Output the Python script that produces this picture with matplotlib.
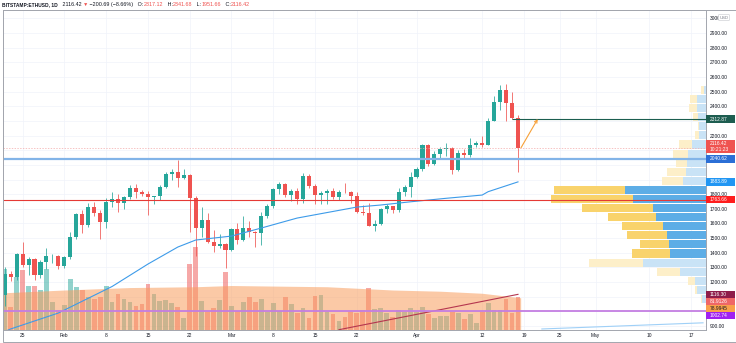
import matplotlib
matplotlib.use("Agg")
import matplotlib.pyplot as plt
import matplotlib.dates as mdates
import matplotlib.transforms as mtransforms
from matplotlib.patches import Rectangle
from matplotlib.text import Annotation
import pandas as pd

# ==========================================================
# CONFIG
# ==========================================================

plt.rcParams["font.family"] = ["Liberation Sans", "DejaVu Sans"]

W, H = 736, 343
FS = 3.5

DARK = "#131722"
UP = "#26a69a"
DOWN = "#ef5350"
GRID = "#f0f3fa"
FRAME = "#a3a6ae"

# ==========================================================
# DATA  (BITSTAMP:ETHUSD, 1D)
# ==========================================================

dates = pd.date_range("2021-01-22", "2021-04-18", freq="D")

opens = [
    1115, 1255, 1232, 1391, 1320, 1357, 1245, 1335, 1375, 1378,
    1312, 1368, 1510, 1662, 1592, 1712, 1672, 1612, 1748, 1768,
    1740, 1782, 1842, 1812, 1800, 1778, 1785, 1848, 1936, 1950,
    1912, 1932, 1775, 1572, 1626, 1475, 1445, 1460,
    1420, 1565, 1487, 1572, 1540, 1532, 1652, 1722, 1833, 1868,
    1795, 1825, 1768, 1922, 1855, 1793, 1806, 1822, 1780, 1815,
    1812, 1785, 1680, 1670, 1585, 1595, 1702, 1716, 1690, 1817, 1846,
    1918, 1971, 2135, 2008, 2075, 2107, 2112, 1964, 2080, 2068,
    2133, 2150, 2139, 2300, 2432, 2514, 2423, 2317.12,
]
highs = [
    1300, 1275, 1400, 1475, 1370, 1365, 1350, 1430, 1390, 1385,
    1380, 1540, 1670, 1695, 1740, 1745, 1695, 1775, 1815, 1800,
    1790, 1865, 1872, 1830, 1820, 1790, 1860, 1950, 1970, 2035,
    1970, 1940, 1785, 1710, 1670, 1555, 1525, 1465,
    1570, 1600, 1650, 1620, 1548, 1680, 1735, 1840, 1880, 1875,
    1835, 1840, 1945, 1935, 1870, 1820, 1835, 1840, 1830, 1875,
    1820, 1815, 1725, 1740, 1625, 1705, 1735, 1720, 1845, 1860, 1950,
    1985, 2145, 2145, 2095, 2125, 2150, 2120, 2100, 2105, 2180,
    2160, 2195, 2320, 2470, 2545, 2550, 2495, 2341.68,
]
lows = [
    1035, 1205, 1215, 1300, 1250, 1215, 1225, 1290, 1330, 1290,
    1295, 1355, 1495, 1535, 1575, 1650, 1495, 1570, 1710, 1680,
    1700, 1765, 1775, 1785, 1655, 1735, 1760, 1840, 1895, 1850,
    1905, 1540, 1380, 1510, 1465, 1405, 1430, 1295,
    1410, 1460, 1480, 1510, 1440, 1455, 1640, 1705, 1800, 1780,
    1755, 1735, 1740, 1840, 1730, 1730, 1730, 1770, 1760, 1805,
    1740, 1670, 1655, 1580, 1550, 1590, 1670, 1670, 1680, 1790, 1780,
    1910, 1960, 1995, 2000, 2050, 2060, 1935, 1955, 2050, 2055,
    2120, 2125, 2135, 2300, 2375, 2300, 2310, 1951.66,
]
closes = [
    1255, 1232, 1391, 1320, 1357, 1245, 1335, 1375, 1378, 1312,
    1368, 1510, 1662, 1592, 1712, 1672, 1612, 1748, 1768, 1740,
    1782, 1842, 1812, 1800, 1778, 1785, 1848, 1936, 1950, 1912,
    1932, 1775, 1572, 1626, 1475, 1445, 1460, 1420,
    1565, 1487, 1572, 1540, 1532, 1652, 1722, 1833, 1868, 1795,
    1825, 1768, 1922, 1855, 1793, 1806, 1822, 1780, 1815, 1812,
    1785, 1680, 1670, 1585, 1595, 1702, 1716, 1690, 1817, 1846, 1918,
    1971, 2135, 2008, 2075, 2107, 2112, 1964, 2080, 2068, 2133,
    2150, 2139, 2300, 2432, 2514, 2423, 2317.12, 2116.42,
]
# daily volume, thousand ETH
volumes = [
    150, 56, 130, 147, 108, 108, 98, 150, 69, 49,
    61, 125, 105, 98, 81, 76, 81, 108, 69, 88,
    76, 69, 59, 64, 113, 88, 71, 74, 66, 56,
    29, 162, 203, 71, 44, 54, 74, 142,
    59, 47, 69, 81, 69, 76, 44, 66, 47, 81,
    64, 42, 54, 29, 83, 86, 44, 39, 22, 32,
    44, 42, 49, 103, 52, 54, 42, 32, 49, 44, 54,
    44, 56, 39, 29, 34, 34, 44, 42, 27, 39,
    17, 44, 66, 49, 49, 76, 42, 81.9126,
]

# volume moving average (area)
vol_ma_dates = ["2021-01-22", "2021-02-01", "2021-02-12", "2021-02-23", "2021-03-01",
                "2021-03-06", "2021-03-17", "2021-03-28", "2021-04-05", "2021-04-12",
                "2021-04-18"]
vol_ma = [91, 98, 104, 106, 109, 108, 106, 98, 95, 90, 78.9945]

# price moving average
ma_dates = ["2021-01-22", "2021-01-23", "2021-01-31", "2021-02-09", "2021-02-15",
            "2021-02-20", "2021-02-23", "2021-03-01", "2021-03-06", "2021-03-12",
            "2021-03-22", "2021-03-26", "2021-03-31", "2021-04-06", "2021-04-12",
            "2021-04-13", "2021-04-18"]
ma_values = [862, 880, 989, 1170, 1323, 1439, 1487, 1514, 1569, 1637,
             1712, 1726, 1748, 1772, 1794, 1817, 1883.89]

# drawn lines
trend_dates = ["2021-03-19", "2021-04-18"]
trend_values = [875, 1116.30]
proj_dates = ["2021-04-22", "2021-05-19"]
proj_values = [880, 922]

level_blue = 2040.62
level_red = 1763.66
level_green = 2312.87
level_purple = 1002.74
last_close = 2116.42

# volume profile (visible range)
prof_levels = [2511, 2449, 2387, 2325, 2263, 2201, 2139, 2077, 2015, 1953,
               1891, 1829, 1767, 1705, 1643, 1581, 1519, 1457, 1395, 1333,
               1271, 1209, 1147, 1085]
prof_up = [2, 8.7, 9.3, 7.7, 6.7, 6.7, 14.3, 18.3, 19.3, 20,
           23.3, 81, 73.3, 52.7, 50, 42.7, 38.7, 36.7, 36, 63.3,
           26, 11, 9, 4]
prof_down = [3.3, 7.3, 7.7, 5, 1, 4.3, 12.3, 14.3, 10.7, 19.3,
             21, 71, 81.7, 71.3, 48.3, 41, 40, 29.3, 38.3, 53.3,
             23.3, 6.7, 2, 1]
value_area = (1395, 1829)

tick_dates = ["2021-01-25", "2021-02-01", "2021-02-08", "2021-02-15", "2021-02-22",
              "2021-03-01", "2021-03-08", "2021-03-15", "2021-03-22", "2021-04-01",
              "2021-04-12", "2021-04-19", "2021-04-25", "2021-05-01", "2021-05-10",
              "2021-05-17"]
tick_labels = ["25", "Feb", "8", "15", "22", "Mar", "8", "15", "22", "Apr",
               "12", "19", "25", "May", "10", "17"]
price_ticks = list(range(900, 3001, 100))
# scale labels sitting under a price tag are not printed
covered_ticks = {1000, 1100, 1900, 2000, 2100, 2300}

# ==========================================================
# FIGURE
# ==========================================================

def dnum(s):
    return mdates.date2num(pd.Timestamp(s))

x = mdates.date2num(dates)
x0 = dnum("2021-01-25") - 3.28
x1 = x0 + 117.78
y0, y1 = 873, 3057

fig = plt.figure(figsize=(W / 100, H / 100), dpi=100)
fig.patch.set_facecolor("white")
rect = [3 / W, 13 / H, 703 / W, 320 / H]

# base layer: grid + scales
ax = fig.add_axes(rect)
ax.set_xlim(x0, x1)
ax.set_ylim(y0, y1)
ax.set_xticks([dnum(d) for d in tick_dates])
ax.set_xticklabels(tick_labels)
ax.set_yticks(price_ticks)
ax.set_yticklabels(["" if p in covered_ticks else f"{p:.2f}" for p in price_ticks])
ax.yaxis.tick_right()
ax.tick_params(axis="both", length=0, labelsize=FS, colors=DARK)
ax.tick_params(axis="x", pad=2.2)
ax.tick_params(axis="y", pad=2.8)
ax.grid(True, color=GRID, lw=0.5)
for s in ax.spines.values():
    s.set_visible(False)

# volume layer
vax = fig.add_axes(rect)
vax.set_xlim(x0, x1)
vax.set_ylim(0, 784)
vax.axis("off")
bar_cols = [(UP if c >= o else DOWN) for o, c in zip(opens, closes)]
vax.bar(x, volumes, width=0.8, color=bar_cols, alpha=0.5, lw=0, zorder=1)
vx = [dnum(d) for d in vol_ma_dates]
vx[0] -= 0.45
vx[-1] += 0.45
vax.fill_between(vx, 0, vol_ma, color="#f99d5e", alpha=0.55, lw=0, zorder=2)

# volume profile layer
pax = fig.add_axes(rect)
pax.set_xlim(703, 0)
pax.set_ylim(y0, y1)
pax.axis("off")
in_va = [value_area[0] <= p <= value_area[1] for p in prof_levels]
pax.barh(prof_levels, prof_up, height=55,
         color=["#5dade6" if v else "#c9e3f6" for v in in_va], lw=0)
pax.barh(prof_levels, prof_down, left=prof_up, height=55,
         color=["#f9d36c" if v else "#fdefc9" for v in in_va], lw=0)

# candles + drawings
cax = fig.add_axes(rect)
cax.set_xlim(x0, x1)
cax.set_ylim(y0, y1)
cax.patch.set_alpha(0)
cax.tick_params(length=0, labelbottom=False, labelleft=False)
for s in cax.spines.values():
    s.set_color(FRAME)
    s.set_linewidth(0.7)

cax.vlines(x, lows, highs, colors=bar_cols, lw=0.55, zorder=2)
bottoms = [min(o, c) for o, c in zip(opens, closes)]
heights = [max(abs(c - o), 5) for o, c in zip(opens, closes)]
cax.bar(x, heights, bottom=bottoms, width=0.68, color=bar_cols, lw=0, zorder=3)

cax.plot([dnum(d) for d in ma_dates], ma_values, color="#3d9be9", lw=0.8, zorder=4)
cax.plot([dnum(d) for d in trend_dates], trend_values, color="#b5364f", lw=0.8, zorder=4)
cax.plot([dnum(d) for d in proj_dates], proj_values, color="#9fd0f7", lw=0.8, zorder=4)

cax.axhline(level_blue, color="#82b4e8", lw=1.6, zorder=5)
cax.axhline(level_red, color="#e53935", lw=0.8, zorder=5)
cax.axhline(level_purple, color="#c47ee2", lw=1.3, zorder=5)
cax.axhline(last_close, color="#f3a9a9", lw=0.5, ls=(0, (2, 2)), zorder=5)
cax.hlines(level_green, dnum("2021-04-17"), x1, color="#1b5e4f", lw=0.8, zorder=5)
cax.annotate("", xy=(dnum("2021-04-18") + 3.3, level_green),
             xytext=(dnum("2021-04-18") + 0.5, last_close),
             arrowprops=dict(arrowstyle="->", color="#f7a038", lw=0.8,
                             mutation_scale=5, shrinkA=0, shrinkB=0), zorder=6)

# ==========================================================
# PRICE TAGS
# ==========================================================

tag_tr = mtransforms.blended_transform_factory(cax.transAxes, cax.transData)

def price_tag(y, text, face, fg="white", rows=1):
    h = 51 * rows
    cax.add_patch(Rectangle((1.0, y - h / 2), 29 / 703, h, transform=tag_tr,
                            facecolor=face, edgecolor="none", clip_on=False, zorder=10))
    cax.text(1.0 + 4 / 703, y, text, transform=tag_tr, color=fg, fontsize=FS,
             va="center", ha="left", clip_on=False, zorder=11, linespacing=1.15)

price_tag(level_green, f"{level_green:.2f}", "#1d5d50")
price_tag(last_close + 8, f"{last_close:.2f}\n10:21:23", "#ef5350", rows=1.75)
price_tag(level_blue, f"{level_blue:.2f}", "#2b6fd6")
price_tag(ma_values[-1], f"{ma_values[-1]:.2f}", "#2196f3")
price_tag(level_red, f"{level_red:.2f}", "#ff1d1d")
price_tag(trend_values[-1], f"{trend_values[-1]:.2f}", "#8e1d4a")
price_tag(1068, f"{volumes[-1]:.4f}", "#ef6767")
price_tag(1020, f"{vol_ma[-1]:.4f}", "#f9a04b", fg=DARK)
price_tag(972, f"{level_purple:.2f}", "#a020f0")

cax.text((724 - 3) / 703, 1 - 7.5 / 320, "USD", transform=cax.transAxes, fontsize=3,
         color="#787b86", ha="center", va="center", zorder=12, clip_on=False,
         bbox=dict(boxstyle="round,pad=0.25", fc="white", ec="#c4c6cc", lw=0.4))

# outer frame around plot + scales
fig.add_artist(Rectangle((3 / W, 1.5 / H), 732.5 / W, 331.5 / H, transform=fig.transFigure,
                         fill=False, ec=FRAME, lw=0.7))

# ==========================================================
# HEADER
# ==========================================================

parts = [
    ("   2116.42 ", DARK), ("▼", DOWN), (" \u2212200.69 (\u22128.66%)   O:", DARK),
    ("2317.12", DOWN), ("   H:", DARK), ("2341.68", DOWN), ("   L:", DARK),
    ("1951.66", DOWN), ("   C:", DARK), ("2116.42", DOWN),
]
t = fig.text(2 / W, 336 / H, "BITSTAMP:ETHUSD, 1D", fontsize=FS, color=DARK,
             fontweight="bold", va="bottom", ha="left")
for s, c in parts:
    t = fig.add_artist(Annotation(s, xy=(1, 0), xycoords=t, va="bottom", ha="left",
                                  fontsize=3.9, color=c))

fig.savefig("out.png", dpi=100, facecolor="white")
